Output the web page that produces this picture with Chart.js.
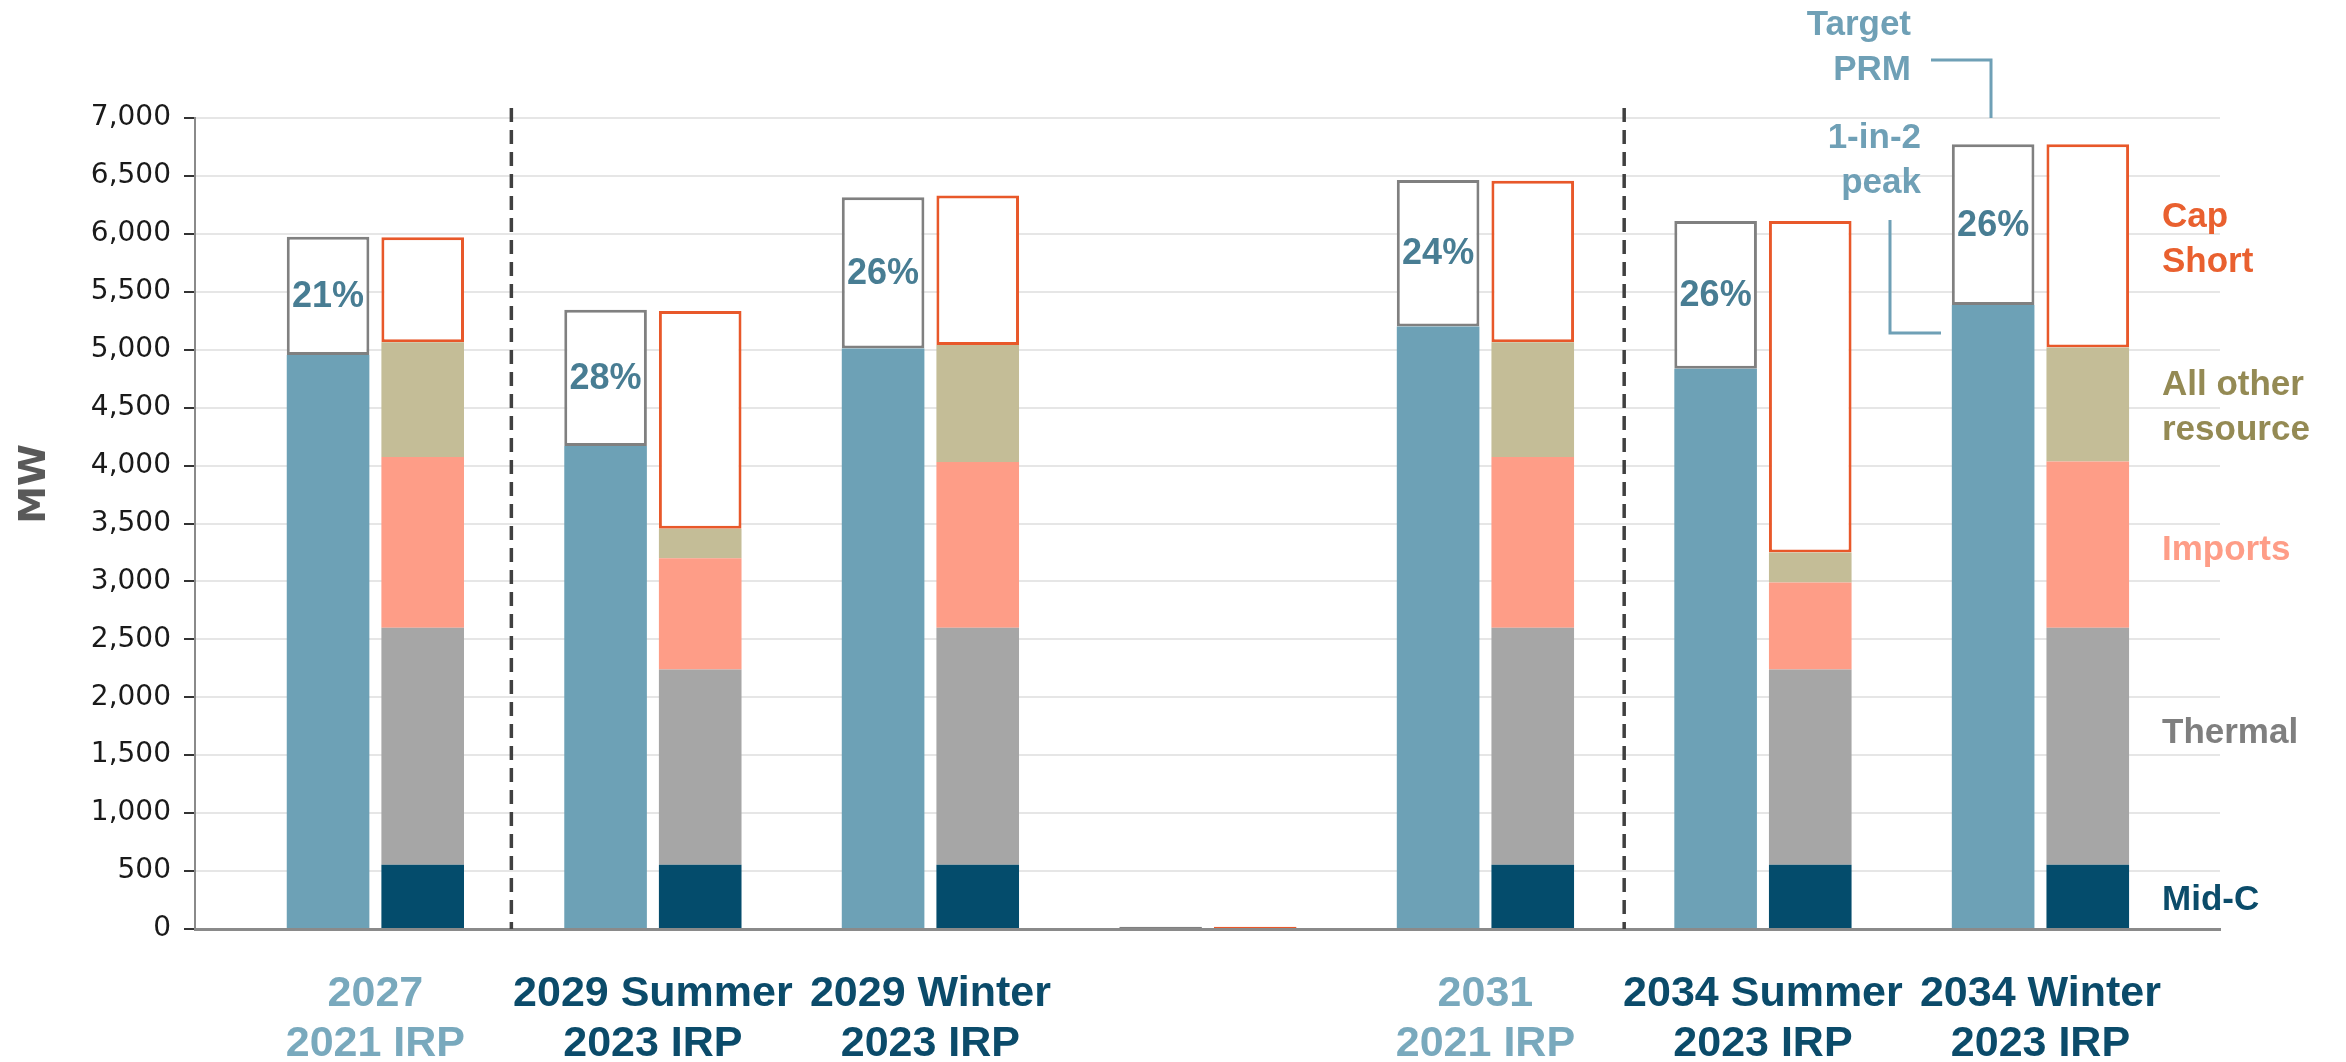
<!DOCTYPE html>
<html lang="en">
<head>
<meta charset="utf-8">
<title>Capacity position</title>
<script src="https://cdn.jsdelivr.net/npm/chart.js@4.4.1/dist/chart.umd.min.js"></script>
<style>
  html, body { margin: 0; padding: 0; background: #fff; }
  #grafico { display: block; }
</style>
</head>
<body>
<canvas id="grafico" width="2346" height="1062"></canvas>
<script>
/* ===================== DATOS ===================== */
const categorias = [
  ["2027", "2021 IRP"],
  ["2029 Summer", "2023 IRP"],
  ["2029 Winter", "2023 IRP"],
  ["", ""],
  ["2031", "2021 IRP"],
  ["2034 Summer", "2023 IRP"],
  ["2034 Winter", "2023 IRP"],
];
const coloresCategoria = ["#79a9bd", "#0b4b6a", "#0b4b6a", "#0b4b6a", "#79a9bd", "#0b4b6a", "#0b4b6a"];

// columna izquierda: pico 1-in-2 + margen PRM objetivo
const picoCarga = [4955, 4170, 5010, 0, 5200, 4835, 5385];
const margenPRM = [1020, 1175, 1305, 20, 1265, 1275, 1388];
const etiquetasPRM = ["21%", "28%", "26%", "", "24%", "26%", "26%"];

// columna derecha: recursos
const midC = [555, 555, 555, 0, 555, 555, 555];
const termica = [2045, 1685, 2045, 0, 2045, 1685, 2045];
const importaciones = [1475, 960, 1430, 0, 1475, 750, 1435];
const otrosRecursos = [990, 255, 1010, 0, 990, 260, 985];
const deficit = [905, 1880, 1290, 20, 1393, 2860, 1753];

// separadores verticales (entre categorías)
const divisiones = [0.49, 4.5];

/* ===================== CONFIGURACIÓN GLOBAL ===================== */
const FUENTE = "'Liberation Sans', Arial, sans-serif";
Chart.defaults.font.family = FUENTE;

const puntos = (arr) => arr.map((v, i) => ({ x: i, y: v }));

/* ===================== PLUGIN DE ANOTACIONES ===================== */
const anotaciones = {
  id: "anotaciones",
  beforeDatasetsDraw(chart) {
    const { ctx, chartArea, scales } = chart;
    ctx.save();
    ctx.strokeStyle = "#404040";
    ctx.lineWidth = 3.5;
    ctx.setLineDash([14, 8]);
    divisiones.forEach((d) => {
      const x = scales.x.getPixelForValue(d);
      ctx.beginPath();
      ctx.moveTo(x, chartArea.top - 10);
      ctx.lineTo(x, chartArea.bottom);
      ctx.stroke();
    });
    ctx.restore();
  },
  afterDraw(chart) {
    const { ctx } = chart;
    ctx.save();

    // porcentajes dentro de la caja PRM
    const meta = chart.getDatasetMeta(1);
    ctx.font = `bold 36px ${FUENTE}`;
    ctx.fillStyle = "#487d93";
    ctx.textAlign = "center";
    ctx.textBaseline = "middle";
    meta.data.forEach((bar, i) => {
      if (!etiquetasPRM[i]) return;
      ctx.fillText(etiquetasPRM[i], bar.x, (bar.y + bar.base) / 2 + 1);
    });

    // titulo eje Y
    ctx.save();
    ctx.translate(35, 484);
    ctx.rotate(-Math.PI / 2);
    ctx.font = "bold 38px 'DejaVu Sans', sans-serif";
    ctx.fillStyle = "#595959";
    ctx.fillText("MW", 0, 0);
    ctx.restore();

    // leyenda a la derecha
    ctx.textAlign = "left";
    ctx.textBaseline = "alphabetic";
    ctx.font = `bold 35px ${FUENTE}`;
    const leyenda = [
      ["Cap", 227, "#e9602f"],
      ["Short", 272, "#e9602f"],
      ["All other", 395, "#948a54"],
      ["resource", 440, "#948a54"],
      ["Imports", 560, "#fe9d87"],
      ["Thermal", 743, "#7f7f7f"],
      ["Mid-C", 910, "#0b4c6a"],
    ];
    leyenda.forEach(([t, y, c]) => {
      ctx.fillStyle = c;
      ctx.fillText(t, 2162, y);
    });

    // Target PRM / 1-in-2 peak
    ctx.fillStyle = "#6fa0b6";
    ctx.textAlign = "right";
    ctx.fillText("Target", 1911, 35);
    ctx.fillText("PRM", 1911, 80);
    ctx.fillText("1-in-2", 1921, 148);
    ctx.fillText("peak", 1921, 193);

    ctx.strokeStyle = "#6fa0b6";
    ctx.lineWidth = 3;
    ctx.beginPath();
    ctx.moveTo(1931, 60);
    ctx.lineTo(1991, 60);
    ctx.lineTo(1991, 118);
    ctx.stroke();
    ctx.beginPath();
    ctx.moveTo(1890, 220);
    ctx.lineTo(1890, 333);
    ctx.lineTo(1941, 333);
    ctx.stroke();

    ctx.restore();
  },
};

/* ===================== GRÁFICO ===================== */
const barra = {
  categoryPercentage: 0.682,
  barPercentage: 0.873,
  borderSkipped: false,
};

new Chart(document.getElementById("grafico"), {
  type: "bar",
  data: {
    datasets: [
      { ...barra, label: "1-in-2 peak", data: puntos(picoCarga), stack: "carga",
        backgroundColor: "#6da1b6", borderWidth: 0 },
      { ...barra, label: "Target PRM", data: puntos(margenPRM), stack: "carga",
        backgroundColor: "#ffffff", borderColor: "#808080", borderWidth: 3 },
      { ...barra, label: "Mid-C", data: puntos(midC), stack: "recursos",
        backgroundColor: "#044c6c", borderWidth: 0 },
      { ...barra, label: "Thermal", data: puntos(termica), stack: "recursos",
        backgroundColor: "#a6a6a6", borderWidth: 0 },
      { ...barra, label: "Imports", data: puntos(importaciones), stack: "recursos",
        backgroundColor: "#fe9d87", borderWidth: 0 },
      { ...barra, label: "All other resource", data: puntos(otrosRecursos), stack: "recursos",
        backgroundColor: "#c4bd97", borderWidth: 0 },
      { ...barra, label: "Cap Short", data: puntos(deficit), stack: "recursos",
        backgroundColor: "#ffffff", borderColor: "#e8582a", borderWidth: 3 },
    ],
  },
  plugins: [anotaciones],
  options: {
    responsive: false,
    animation: false,
    devicePixelRatio: 1,
    layout: { padding: { top: 118, right: 126, left: 0, bottom: 0 } },
    plugins: {
      legend: { display: false },
      tooltip: { enabled: false },
    },
    scales: {
      x: {
        type: "linear",
        offset: false,
        bounds: "data",
        min: -0.65,
        max: 6.647,
        grid: { display: false },
        border: { display: true, color: "#8a8a8a", width: 3 },
        afterBuildTicks: (s) => {
          s.ticks = categorias.map((_, i) => ({ value: i }));
        },
        afterFit: (s) => {
          s.height = 133;
        },
        ticks: {
          autoSkip: false,
          maxRotation: 0,
          padding: 32,
          font: { size: 43, weight: "bold", lineHeight: 1.163 },
          color: (ctx) => coloresCategoria[ctx.index],
          callback: (v) => categorias[v],
        },
      },
      y: {
        stacked: true,
        min: 0,
        max: 7000,
        afterFit: (s) => {
          s.width = 195;
        },
        grid: {
          color: "#e6e6e6",
          lineWidth: 2,
          tickLength: 11,
          tickColor: "#333333",
          tickWidth: 2,
        },
        border: { display: true, color: "#8a8a8a", width: 2 },
        ticks: {
          stepSize: 500,
          padding: 13,
          color: "#1a1a1a",
          font: { family: "'DejaVu Sans', sans-serif", size: 28 },
          callback: (v) => Number(v).toLocaleString("en-US"),
        },
      },
    },
  },
});
</script>
</body>
</html>
